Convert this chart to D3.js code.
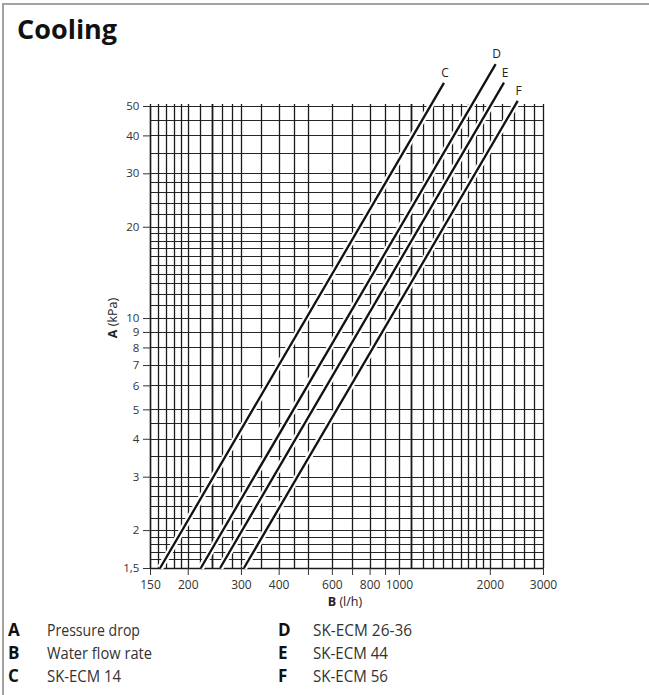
<!DOCTYPE html>
<html>
<head>
<meta charset="utf-8">
<script src="https://cdn.jsdelivr.net/npm/d3@7"></script>
<style>
  html, body { margin: 0; padding: 0; background: #fff; }
  svg { display: block; font-family: "Open Sans", "DejaVu Sans", sans-serif; }
</style>
</head>
<body>
<svg id="chart" width="649" height="695"></svg>
<script>
// ---- data ----
const seriesNames = ["C", "D", "E", "F"];
const seriesC = [[162, 1.5], [1410, 59.6]];
const seriesD = [[221, 1.5], [2091, 68.7]];
const seriesE = [[256, 1.5], [2228, 59.7]];
const seriesF = [[307, 1.5], [2474, 52.0]];

const xTicks = [150, 200, 300, 400, 500, 600, 700, 800, 900, 1000, 2000, 3000];
const xTickLabels = [150, 200, 300, 400, 600, 800, 1000, 2000, 3000];
const yTicks = [1.5, 2, 3, 4, 5, 6, 7, 8, 9, 10, 20, 30, 40, 50];

const xGrid = [150, 160, 170, 180, 190, 200, 220, 240, 260, 280, 300, 350, 400, 450, 500, 600, 700, 800, 900,
  1000, 1100, 1200, 1300, 1400, 1500, 1600, 1700, 1800, 1900, 2000, 2200, 2400, 2600, 2800, 3000];
const yGrid = [1.5, 1.6, 1.7, 1.8, 1.9, 2, 2.2, 2.4, 2.6, 2.8, 3, 3.5, 4, 4.5, 5, 6, 7, 8, 9,
  10, 11, 12, 13, 14, 15, 16, 17, 18, 19, 20, 22, 24, 26, 28, 30, 35, 40, 45, 50];
const xGridHeavy = [240, 1100];

const legendLeft = [["A", "Pressure drop"], ["B", "Water flow rate"], ["C", "SK-ECM 14"]];
const legendRight = [["D", "SK-ECM 26-36"], ["E", "SK-ECM 44"], ["F", "SK-ECM 56"]];

// ---- drawing ----
const svg = d3.select("#chart");
const L = 150, R = 543, T = 106, B = 568;
const x = d3.scaleLog().domain([150, 3000]).range([L, R]);
const y = d3.scaleLog().domain([1.5, 50]).range([B, T]);

// frame
svg.append("path").attr("d", "M3,695 V4 H649").attr("fill", "none")
  .attr("stroke", "#a3a3a3").attr("stroke-width", 2);

svg.append("text").attr("x", 17).attr("y", 39).text("Cooling")
  .attr("font-size", 27).attr("font-weight", 700).attr("fill", "#111");

// grid
const g = svg.append("g");
g.selectAll("line.h").data(yGrid).join("line")
  .attr("x1", L).attr("x2", R)
  .attr("y1", d => Math.round(y(d)) + 0.5).attr("y2", d => Math.round(y(d)) + 0.5)
  .attr("stroke", "#262626").attr("stroke-width", 1.15);
g.selectAll("line.v").data(xGrid).join("line")
  .attr("x1", d => Math.round(x(d)) + 0.5).attr("x2", d => Math.round(x(d)) + 0.5)
  .attr("y1", T - 2).attr("y2", B)
  .attr("stroke", "#1a1a1a")
  .attr("stroke-width", d => xGridHeavy.includes(d) ? 1.8 : 1.3);

// axes
const fmt = d => String(d).replace(".", ",");
const xAxis = d3.axisBottom(x).tickValues(xTicks).tickSize(7).tickSizeOuter(0)
  .tickFormat(d => xTickLabels.includes(d) ? fmt(d) : "");
const ax = svg.append("g").attr("transform", `translate(0,${B})`).call(xAxis);
const yAxis = d3.axisLeft(y).tickValues(yTicks).tickSize(7).tickSizeOuter(0).tickFormat(fmt);
const ay = svg.append("g").attr("transform", `translate(${L},0)`).call(yAxis);
[ax, ay].forEach(a => {
  a.attr("font-size", 12).attr("font-family", "'Open Sans', sans-serif");
  a.select(".domain").attr("stroke", "#1a1a1a").attr("stroke-width", 1.4);
  a.selectAll(".tick line").attr("stroke", "#333").attr("stroke-width", 1);
  a.selectAll(".tick text").attr("fill", "#333");
});
ay.attr("font-size", 11.5);
ax.selectAll(".tick text").attr("dy", "0.95em");
ay.selectAll(".tick text").attr("dx", "-0.05em");

// axis titles
const yt = svg.append("text").attr("transform", `translate(117,318) rotate(-90)`)
  .attr("text-anchor", "middle").attr("font-size", 12.5).attr("fill", "#222");
yt.append("tspan").attr("font-weight", 700).text("A");
yt.append("tspan").text(" (kPa)");
const xt = svg.append("text").attr("x", 345).attr("y", 606)
  .attr("text-anchor", "middle").attr("font-size", 12.5).attr("fill", "#222");
xt.append("tspan").attr("font-weight", 700).text("B");
xt.append("tspan").text(" (l/h)");

// curves
const allSeries = [seriesC, seriesD, seriesE, seriesF];
const line = d3.line().x(d => x(d[0])).y(d => y(d[1]));
const cg = svg.append("g");
allSeries.forEach(s => {
  cg.append("path").attr("d", line(s)).attr("fill", "none")
    .attr("stroke", "#fff").attr("stroke-width", 6.5);
});
allSeries.forEach(s => {
  cg.append("path").attr("d", line(s)).attr("fill", "none")
    .attr("stroke", "#111").attr("stroke-width", 2.3);
});
allSeries.forEach((s, i) => {
  const end = s[s.length - 1];
  svg.append("text").attr("x", x(end[0]) + 1).attr("y", y(end[1]) - 6)
    .attr("text-anchor", "middle").attr("font-size", 12).attr("fill", "#222")
    .text(seriesNames[i]);
});

// legend
const rowsY = [636, 659, 682];
const widths = {"Pressure drop": 93, "Water flow rate": 105, "SK-ECM 14": 74,
  "SK-ECM 26-36": 99, "SK-ECM 44": 75, "SK-ECM 56": 75};
function legendCol(items, lx, tx) {
  items.forEach((it, i) => {
    svg.append("text").attr("x", lx).attr("y", rowsY[i]).text(it[0])
      .attr("font-size", 17).attr("font-weight", 700).attr("fill", "#111");
    svg.append("text").attr("x", tx).attr("y", rowsY[i]).text(it[1])
      .attr("font-size", 17).attr("fill", "#333")
      .attr("textLength", widths[it[1]]).attr("lengthAdjust", "spacingAndGlyphs");
  });
}
legendCol(legendLeft, 8, 47);
legendCol(legendRight, 278, 313);
</script>
</body>
</html>
